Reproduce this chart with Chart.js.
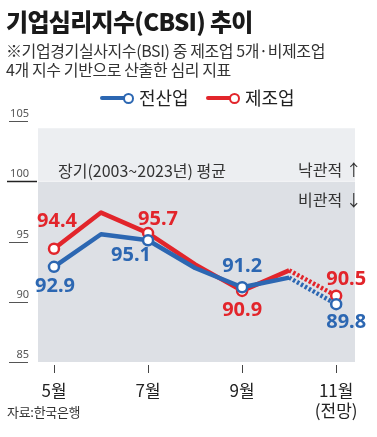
<!DOCTYPE html>
<html><head><meta charset="utf-8">
<script src="https://cdn.jsdelivr.net/npm/chart.js@4/dist/chart.umd.min.js"></script>
<style>
html,body{margin:0;padding:0;background:#fff;width:377px;height:437px;overflow:hidden;font-family:"Noto Sans CJK KR","Noto Sans",sans-serif;color:#222}
#wrap{position:relative;width:377px;height:437px}
canvas{position:absolute;left:0;top:0}
.t{position:absolute;white-space:nowrap;line-height:1}
#title{left:6px;top:9px;font-size:24px;font-weight:900;letter-spacing:-0.7px;color:#1a1a1a}
.sub{left:6px;font-size:16px;letter-spacing:-0.4px;color:#333}
.leg{font-size:18px;color:#222;top:88px}
.ann{font-size:16px;color:#333}
#src{left:7px;top:405px;font-size:13px;color:#333;letter-spacing:-0.3px}
.sw{position:absolute;height:4px;border-radius:2px}
.dot{position:absolute;width:7px;height:7px;border-radius:50%;background:#fff}
</style></head>
<body><div id="wrap">
<canvas id="c" width="377" height="437"></canvas>
<div class="t" id="title">기업심리지수(CBSI) 추이</div>
<div class="t sub" style="top:42px">※기업경기실사지수(BSI) 중 제조업 5개·비제조업</div>
<div class="t sub" style="top:61px">4개 지수 기반으로 산출한 심리 지표</div>
<div class="sw" style="left:100px;top:96px;width:26px;background:#2c67b2"></div>
<div class="dot" style="left:123px;top:93px;border:2.5px solid #2c67b2"></div>
<div class="t leg" id="l1" style="left:139px">전산업</div>
<div class="sw" style="left:206px;top:96px;width:26px;background:#e2252b"></div>
<div class="dot" style="left:229px;top:93px;border:2.5px solid #e2252b"></div>
<div class="t leg" id="l2" style="left:245px">제조업</div>
<div class="t ann" style="left:58px;top:162px">장기(2003~2023년) 평균</div>
<div class="t ann" style="left:298px;top:161px">낙관적 ↑</div>
<div class="t ann" style="left:298px;top:191px">비관적 ↓</div>
<div class="t" id="src">자료:한국은행</div>
</div>
<script>
const months = [5, 6, 7, 8, 9, 10, 11];
const allIndustry = [92.9, 95.6, 95.1, 92.8, 91.2, 92.0, 89.8];
const manufacturing = [94.4, 97.4, 95.7, 93.1, 90.9, 92.6, 90.5];
const seriesNames = ['전산업', '제조업'];
const xTickMonths = [5, 7, 9, 11];
const xTickLabels = ['5월', '7월', '9월', ['11월', '(전망)']];
const yTicks = [85, 90, 95, 100, 105];
const baseline = 100;

const BLUE = '#2c67b2', RED = '#e2252b';
// label offsets (px) for labeled points, per dataset
const labelOffsets = [
  {0:[1,19], 2:[-17,15], 4:[0,-21], 6:[10,18]},
  {0:[3,-27], 2:[10,-14], 4:[0,19], 6:[10,-16]}
];

const bgPlugin = {
  id: 'bg',
  beforeDatasetsDraw(chart) {
    const {ctx, chartArea: a, scales: {y}} = chart;
    const yTop = y.getPixelForValue(104.4), yB = y.getPixelForValue(baseline);
    ctx.save();
    ctx.fillStyle = '#eceef1';
    ctx.fillRect(a.left, yTop, a.right - a.left, yB - yTop);
    ctx.fillStyle = '#dde0e5';
    ctx.fillRect(a.left, yB, a.right - a.left, a.bottom - yB);
    ctx.fillStyle = '#f3f4f6';
    ctx.fillRect(a.left, yB - 0.5, a.right - a.left, 1.2);
    ctx.restore();
  },
  afterDraw(chart) {
    const {ctx, chartArea: a, scales: {x, y}} = chart;
    ctx.save();
    yTicks.forEach(v => {
      const py = Math.round(y.getPixelForValue(v)) + 0.5;
      ctx.beginPath();
      if (v === baseline) { ctx.strokeStyle = '#222'; ctx.lineWidth = 1.5; ctx.moveTo(7, py); ctx.lineTo(37, py); }
      else { ctx.strokeStyle = '#555'; ctx.lineWidth = 1; ctx.moveTo(9, py); ctx.lineTo(28, py); }
      ctx.stroke();
    });
    ctx.strokeStyle = '#444'; ctx.lineWidth = 1;
    xTickMonths.forEach(m => {
      const px = Math.round(x.getPixelForValue(m)) + 0.5;
      ctx.beginPath(); ctx.moveTo(px, a.bottom + 3); ctx.lineTo(px, a.bottom + 11); ctx.stroke();
    });
    // data labels
    ctx.font = 'bold 20px "Noto Sans", "Noto Sans CJK KR", sans-serif';
    ctx.textAlign = 'center'; ctx.textBaseline = 'middle';
    chart.data.datasets.forEach((ds, di) => {
      const meta = chart.getDatasetMeta(di);
      Object.keys(labelOffsets[di]).forEach(k => {
        const i = +k, pt = meta.data[i], off = labelOffsets[di][k];
        ctx.fillStyle = ds.borderColor;
        ctx.fillText(ds.data[i].y.toFixed(1), pt.x + off[0], pt.y + off[1]);
      });
    });
    ctx.restore();
  }
};

const mk = (arr) => months.map((m, i) => ({x: m, y: arr[i]}));
const dashSeg = {borderDash: c => c.p1DataIndex === months.length - 1 ? [2.5, 2] : undefined};

new Chart(document.getElementById('c'), {
  type: 'line',
  data: {
    datasets: [
      {label: seriesNames[0], data: mk(allIndustry), borderColor: BLUE, borderWidth: 4.5,
       pointRadius: c => c.dataIndex % 2 === 0 ? 5 : 0, pointBackgroundColor: '#fff', pointBorderColor: BLUE,
       pointBorderWidth: 2.5, segment: dashSeg, tension: 0, borderCapStyle: 'butt', borderJoinStyle: 'round'},
      {label: seriesNames[1], data: mk(manufacturing), borderColor: RED, borderWidth: 4.5,
       pointRadius: c => c.dataIndex % 2 === 0 ? 5 : 0, pointBackgroundColor: '#fff', pointBorderColor: RED,
       pointBorderWidth: 2.5, segment: dashSeg, tension: 0, borderCapStyle: 'butt', borderJoinStyle: 'round'}
    ]
  },
  options: {
    responsive: false, animation: false, devicePixelRatio: 1,
    layout: {padding: {left: 0, right: 22, top: 121, bottom: 10}},
    plugins: {legend: {display: false}, tooltip: {enabled: false}},
    scales: {
      x: {type: 'linear', min: 4.66, max: 11.4,
        afterBuildTicks: s => { s.ticks = xTickMonths.map(v => ({value: v})); },
        afterFit: s => { s.height = 65; },
        grid: {display: false, drawTicks: false}, border: {display: false},
        ticks: {padding: 18, color: '#222', font: {size: 17, family: '"Noto Sans CJK KR"'},
          callback: v => xTickLabels[xTickMonths.indexOf(v)], maxRotation: 0, autoSkip: false}},
      y: {min: 85, max: 105,
        afterBuildTicks: s => { s.ticks = yTicks.map(v => ({value: v})); },
        afterFit: s => { s.width = 38; },
        grid: {display: false, drawTicks: false}, border: {display: false},
        ticks: {padding: 9, labelOffset: -7, color: '#555', font: {size: 11, family: '"Noto Sans"'}}}
    }
  },
  plugins: [bgPlugin]
});
</script>
</body></html>
